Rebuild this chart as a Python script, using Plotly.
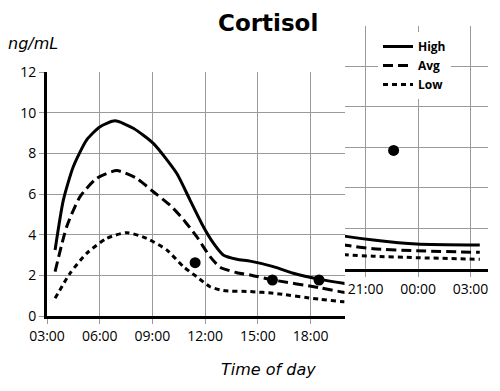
import plotly.graph_objects as go

# ---- data (hours of day; values after 24 continue into next day) ----
high_t = [3.46, 3.93, 4.5, 5.26, 6.02, 6.87, 7.91, 9.05, 10.38, 11.14, 11.9, 12.47, 13.03, 13.8, 14.56, 15.88, 17.02, 18.54, 19.87, 21.44, 23.9, 27.53]
high_v = [3.25, 5.7, 7.35, 8.66, 9.31, 9.6, 9.23, 8.49, 7.02, 5.7, 4.39, 3.58, 3.0, 2.79, 2.7, 2.43, 2.1, 1.8, 1.61, 1.43, 1.23, 1.18]

avg_t = [3.46, 4.12, 4.88, 5.83, 6.97, 8.1, 9.05, 10.0, 10.76, 11.52, 12.28, 12.85, 13.8, 14.56, 15.88, 18.54, 19.87, 21.44, 23.9, 27.53]
avg_v = [2.18, 4.39, 5.87, 6.77, 7.15, 6.77, 6.11, 5.45, 4.75, 3.9, 2.92, 2.4, 2.13, 2.02, 1.77, 1.39, 1.17, 1.0, 0.9, 0.82]

low_t = [3.46, 4.31, 5.26, 6.4, 7.54, 8.67, 9.81, 10.76, 11.52, 12.28, 13.03, 14.56, 15.88, 18.54, 19.87, 21.44, 23.9, 27.53]
low_v = [0.87, 2.1, 3.08, 3.82, 4.1, 3.82, 3.25, 2.43, 1.93, 1.44, 1.25, 1.2, 1.12, 0.82, 0.7, 0.63, 0.56, 0.48]

dot_t = [11.43, 15.83, 18.48, 22.6]
dot_v = [2.62, 1.77, 1.77, 5.85]

left_tickvals = [3, 6, 9, 12, 15, 18]
left_ticktext = ["03:00", "06:00", "09:00", "12:00", "15:00", "18:00"]
right_tickvals = [21, 24, 27]
right_ticktext = ["21:00", "00:00", "03:00"]
y_tickvals = [0, 2, 4, 6, 8, 10, 12]

series = [
    ("High", high_t, high_v, "solid"),
    ("Avg", avg_t, avg_v, "10px,5px"),
    ("Low", low_t, low_v, "5px,4px"),
]

FONT = "Open Sans"
WIDE = "DejaVu Sans"
GRID = "#9a9a9a"

fig = go.Figure()
for axes, show in (("x", True), ("x2", False)):
    ya = "y" if axes == "x" else "y2"
    for name, t, v, dash in series:
        fig.add_trace(go.Scatter(
            x=t, y=v, name=name, mode="lines", xaxis=axes, yaxis=ya,
            line=dict(color="black", width=3, dash=dash, shape="spline", smoothing=0.6),
            showlegend=show, hoverinfo="skip"))
    fig.add_trace(go.Scatter(
        x=dot_t, y=dot_v, mode="markers", xaxis=axes, yaxis=ya,
        marker=dict(color="black", size=11), showlegend=False, hoverinfo="skip"))

# page body has an 8px margin: figure is offset by that much
OFF = 8
W, H = 492, 383
def px_x(p): return (p - OFF) / W
def px_y(p): return (H - (p - OFF)) / H

common_x = dict(showgrid=True, gridcolor=GRID, gridwidth=1, zeroline=False,
                showline=True, linecolor="black", linewidth=3, automargin=False,
                ticks="outside", ticklen=5, tickcolor=GRID, tickwidth=1,
                tickfont=dict(family=FONT, size=14, color="black"), fixedrange=True)

fig.update_layout(
    template="none",
    width=W, height=H, autosize=False,
    margin=dict(l=0, r=0, t=0, b=0, pad=0),
    paper_bgcolor="white", plot_bgcolor="white",
    xaxis=dict(domain=[px_x(47), px_x(344.5)], range=[3, 19.93], anchor="y",
               tickmode="array", tickvals=left_tickvals, ticktext=left_ticktext, **common_x),
    yaxis=dict(domain=[px_y(316), px_y(72)], range=[0, 12], anchor="x",
               tickmode="array", tickvals=y_tickvals, automargin=False,
               showgrid=True, gridcolor=GRID, gridwidth=1, zeroline=False,
               showline=True, linecolor="black", linewidth=3,
               ticks="outside", ticklen=5, tickcolor=GRID, tickwidth=1,
               tickfont=dict(family=FONT, size=14, color="black"), fixedrange=True),
    xaxis2=dict(domain=[px_x(345), px_x(488)], range=[19.82, 28.0], anchor="y2",
                tickmode="array", tickvals=right_tickvals, ticktext=right_ticktext, **common_x),
    yaxis2=dict(domain=[px_y(269), px_y(25.7)], range=[0, 12], anchor="x2",
                tickmode="array", tickvals=y_tickvals, showticklabels=False, automargin=False,
                showgrid=True, gridcolor=GRID, gridwidth=1, zeroline=False,
                showline=False, ticks="", fixedrange=True),
    legend=dict(x=px_x(378), y=px_y(32), xanchor="left", yanchor="top",
                bgcolor="white", borderwidth=0,
                font=dict(family=FONT, size=12, color="black", weight="bold")),
    annotations=[
        dict(text="<b>Cortisol</b>", x=px_x(268), y=1.0, xref="paper", yref="paper",
             xanchor="center", yanchor="top", showarrow=False,
             font=dict(family=WIDE, size=23, color="black")),
        dict(text="<i>ng/mL</i>", x=px_x(6), y=px_y(43), xref="paper", yref="paper",
             xanchor="left", yanchor="middle", showarrow=False,
             font=dict(family=WIDE, size=16, color="black")),
        dict(text="<i>Time of day</i>", x=px_x(268), y=px_y(369), xref="paper", yref="paper",
             xanchor="center", yanchor="middle", showarrow=False,
             font=dict(family=WIDE, size=16, color="black")),
    ],
)

fig.write_html("out.html")
